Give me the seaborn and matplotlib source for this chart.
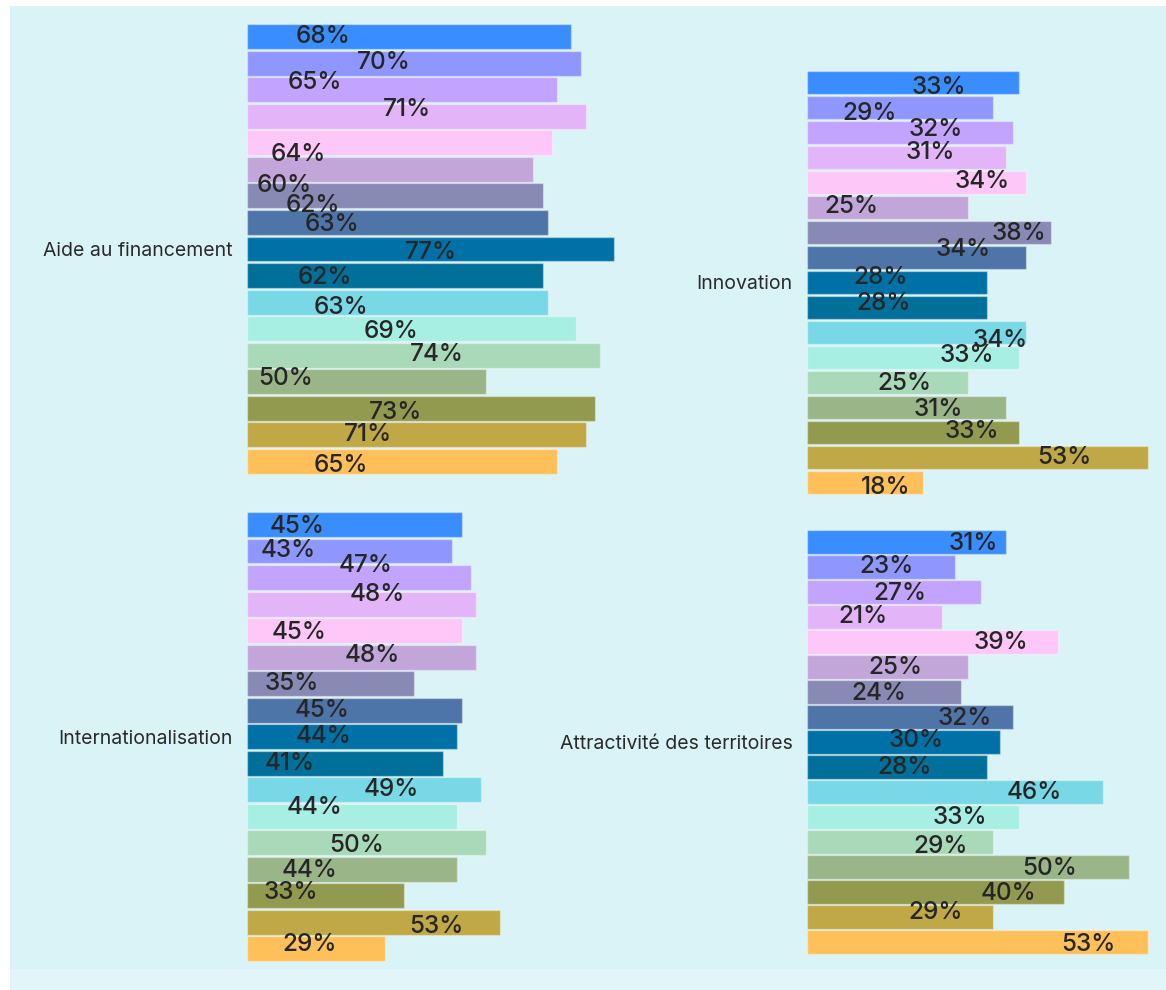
import matplotlib
matplotlib.use("Agg")
import matplotlib.pyplot as plt
from matplotlib.patches import Rectangle
import seaborn as sns
import pandas as pd

sns.set_theme(style="white")
plt.rcParams["font.family"] = ["Inter", "DejaVu Sans"]

# ---- data -------------------------------------------------------------
themes = ["Aide au financement", "Innovation",
          "Internationalisation", "Attractivité des territoires"]

segments = [f"S{i:02d}" for i in range(1, 18)]

aide = [68, 70, 65, 71, 64, 60, 62, 63, 77, 62, 63, 69, 74, 50, 73, 71, 65]
innovation = [33, 29, 32, 31, 34, 25, 38, 34, 28, 28, 34, 33, 25, 31, 33, 53, 18]
international = [45, 43, 47, 48, 45, 48, 35, 45, 44, 41, 49, 44, 50, 44, 33, 53, 29]
attractivite = [31, 23, 27, 21, 39, 25, 24, 32, 30, 28, 46, 33, 29, 50, 40, 29, 53]

colors = ["#3a8dff", "#8f97ff", "#c2a4fe", "#e3b5f8", "#fdc7f8", "#c2a6d9",
          "#8889b4", "#4e74a8", "#0071a7", "#006f9a", "#79d8e6", "#a6efe2",
          "#a8d9b8", "#9ab588", "#929a4f", "#bfa845", "#ffc05a"]

# value-label placement (x in value units, vertical shift in bar slots)
aide_lx = [15.9, 28.7, 14.3, 33.6, 10.8, 7.9, 13.7, 17.8, 38.6, 16.4, 19.6,
           30.1, 39.7, 8.0, 31.1, 25.3, 19.7]
aide_dy = [-0.08, -0.13, -0.37, -0.33, 0.34, 0.52, 0.26, 0.0, 0.04, -0.02,
           0.13, 0.04, -0.11, -0.2, 0.08, -0.09, 0.08]
innov_lx = [20.5, 9.7, 20.1, 19.1, 27.3, 6.9, 32.9, 24.3, 11.5, 11.9, 30.0,
            24.9, 15.1, 20.4, 25.6, 40.0, 12.2]
innov_dy = [0.1, 0.16, -0.19, -0.27, -0.11, -0.11, -0.04, -0.39, -0.29,
            -0.25, 0.24, -0.18, -0.03, 0.0, -0.12, -0.08, 0.12]
inter_lx = [10.4, 8.7, 24.8, 27.3, 11.0, 26.3, 9.3, 15.7, 16.1, 8.9, 30.2,
            14.2, 23.0, 13.1, 9.2, 39.6, 13.1]
inter_dy = [-0.02, -0.12, -0.53, -0.46, -0.03, -0.14, -0.08, -0.08, -0.1,
            -0.08, -0.09, -0.43, 0.0, -0.06, -0.22, 0.06, -0.27]
attr_lx = [25.9, 12.3, 14.4, 8.7, 30.1, 13.7, 11.1, 24.6, 17.0, 15.2, 35.3,
           23.7, 20.8, 37.8, 31.3, 20.0, 43.8]
attr_dy = [-0.02, -0.13, -0.05, -0.11, -0.08, -0.06, -0.04, -0.05, -0.16,
           -0.08, -0.06, -0.06, 0.08, -0.03, -0.04, -0.27, 0.0]

# ---- figure -----------------------------------------------------------
W, H = 1166, 990
fig = plt.figure(figsize=(W / 100, H / 100), dpi=100)
fig.patch.set_facecolor("white")

# panel background
fig.add_artist(Rectangle((10 / W, 1 - 969 / H), (W - 10) / W, (969 - 6) / H,
                         transform=fig.transFigure, facecolor="#daf3f7",
                         edgecolor="none", zorder=0))
fig.add_artist(Rectangle((10 / W, 0), (W - 10) / W, (990 - 969) / H,
                         transform=fig.transFigure, facecolor="#e2f5f9",
                         edgecolor="none", zorder=0))


def add_ax(left, top, width, height):
    return fig.add_axes([left / W, 1 - (top + height) / H, width / W, height / H])


LEFT_SCALE, RIGHT_SCALE = 4.77, 6.43      # pixels per percentage point
LEFT_MAX, RIGHT_MAX = 80, 55

panels = [
    # theme, values, label x, label dy, axes (left, top, height), xmax, px/pt, bar width
    (themes[0], aide, aide_lx, aide_dy, (247, 23.5, 451.0), LEFT_MAX, LEFT_SCALE, 0.94),
    (themes[1], innovation, innov_lx, innov_dy, (807, 69.8, 425.0), RIGHT_MAX, RIGHT_SCALE, 0.93),
    (themes[2], international, inter_lx, inter_dy, (247, 511.2, 451.0), LEFT_MAX, LEFT_SCALE, 0.94),
    (themes[3], attractivite, attr_lx, attr_dy, (807, 529.5, 425.0), RIGHT_MAX, RIGHT_SCALE, 0.93),
]

VALUE_FS = 17.5
CAP = 0.727 * VALUE_FS  # cap height of the value labels, in points

for theme, values, lx, dy, (left, top, height), xmax, scale, bw in panels:
    ax = add_ax(left, top, xmax * scale, height)
    ax.set_facecolor("none")
    df = pd.DataFrame({"segment": segments, "value": values})
    sns.barplot(data=df, x="value", y="segment", hue="segment", order=segments,
                hue_order=segments, palette=colors, orient="h", width=bw,
                saturation=1, legend=False, ax=ax,
                edgecolor=(1, 1, 1, 0.35), linewidth=1.0)
    ax.set_xlim(0, xmax)
    ax.set_ylim(len(segments) - 0.5, -0.5)
    for s in ax.spines.values():
        s.set_visible(False)
    ax.set_xticks([])
    ax.set_xlabel("")
    ax.set_ylabel("")
    ax.set_yticks([len(segments) // 2])
    ax.set_yticklabels([theme], fontsize=14, color="#2a2a2a")
    ax.tick_params(axis="y", length=0, pad=10.5)

    for i, v in enumerate(values):
        ax.annotate(f"{v}%", xy=(lx[i], i + dy[i]), xytext=(0, -CAP / 2),
                    textcoords="offset points", ha="center", va="baseline",
                    fontsize=VALUE_FS, color="#262626", fontweight="medium")

fig.savefig("out.png", dpi=100, facecolor=fig.get_facecolor())
